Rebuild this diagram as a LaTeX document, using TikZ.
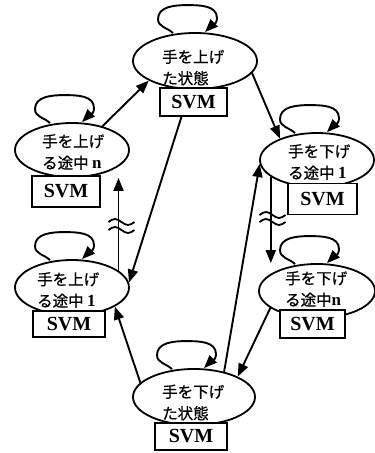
\documentclass[tikz,border=0pt]{standalone}
\usepackage{fontspec}
\setmainfont{Liberation Serif}
\newfontfamily\jp[FakeBold=0.6]{Noto Sans CJK JP}
\usetikzlibrary{shapes.geometric,arrows.meta,calc}
\tikzset{
  st/.style={ellipse, draw, line width=1.8pt, fill=white, inner sep=0pt},
  lbl/.style={anchor=west, align=left, inner sep=0pt, font=\fontsize{15.5}{21.5}\selectfont\jp},
  svmbox/.style={draw, line width=1.8pt, fill=white, inner sep=0pt, font=\fontsize{20}{21}\selectfont\bfseries},
  arr/.style={line width=1.9pt, -{Triangle[length=13pt,width=10pt]}},
  wave/.style={line width=1.8pt}
}
\newcommand{\selfloop}[1]{%
  \draw[arr] ([shift={(-22,-1)}]#1.north) to[out=135,in=-90] ([shift={(-37,13)}]#1.north)
    to[out=90,in=180] ([shift={(-8,27)}]#1.north)
    to[out=0,in=90] ([shift={(22,14)}]#1.north)
    to[out=-90,in=45] ([shift={(10,0)}]#1.north);}
\newcommand{\wavemark}[1]{%
  \draw[wave] ([shift={(-13,0)}]#1) sin ++(6.5,3) cos ++(6.5,-3) sin ++(6.5,-3) cos ++(6.5,3);}
\newcommand{\nb}[1]{{\fontsize{17}{21.5}\rmfamily\bfseries #1}}
\begin{document}
\begin{tikzpicture}[x=1pt,y=1pt]
\useasboundingbox (0,-453) rectangle (375,0);
% states
\node[st, minimum width=124pt, minimum height=56pt] (T) at (195,-61) {};
\node[st, minimum width=114pt, minimum height=54pt] (LU) at (72,-150) {};
\node[st, minimum width=114pt, minimum height=54pt] (RU) at (317,-160) {};
\node[st, minimum width=114pt, minimum height=55pt] (LL) at (72,-287.5) {};
\node[st, minimum width=116pt, minimum height=54pt] (RL) at (317,-291) {};
\node[st, minimum width=122pt, minimum height=56pt] (B) at (194,-397) {};
% labels
\node[lbl] (tT) at (162,-67.5) {手を上げ\\た状態};
\node[lbl] (tLU) at (42,-152) {手を上げ\\る途中 \nb{n}};
\node[lbl] (tRU) at (288,-162) {手を下げ\\る途中 \nb{1}};
\node[lbl] (tLL) at (37,-290) {手を上げ\\る途中 \nb{1}};
\node[lbl] (tRL) at (285,-289) {手を下げ\\る途中\nb{n}};
\node[lbl] (tB) at (162,-402.5) {手を下げ\\た状態};
% SVM boxes
\node[svmbox, minimum width=67pt, minimum height=28pt] (sT) at (193.5,-102) {SVM};
\node[svmbox, minimum width=68pt, minimum height=31pt] (sLU) at (66,-191.5) {SVM};
\node[svmbox, minimum width=69pt, minimum height=31pt] (sRU) at (322.5,-199) {SVM};
\node[svmbox, minimum width=72pt, minimum height=26pt] (sLL) at (69,-324) {SVM};
\node[svmbox, minimum width=65pt, minimum height=28pt] (sRL) at (312.5,-324) {SVM};
\node[svmbox, minimum width=72pt, minimum height=27pt] (sB) at (191,-436.5) {SVM};
% self loops
\selfloop{T}
\selfloop{LU}
\selfloop{RU}
\selfloop{LL}
\selfloop{RL}
\selfloop{B}
% transitions
\draw[arr] (LU.38) -- (T.203);
\draw[arr] (T.348) -- (RU.150);
\draw[arr] (sT.231) -- (LL.5);
\draw[arr] (LL.20) -- (LL.20 |- LU.south);
\draw[arr] (B.165) -- (LL.-24);
\draw[arr] (B.40) -- (RU.184);
\draw[arr] (RU.200) -- (RU.200 |- RL.north);
\draw[arr] (RL.200) -- (B.25);
% omission marks
\coordinate (w1) at (121.5,-222);
\coordinate (w2) at (121.5,-230);
\coordinate (w3) at (272.5,-215);
\coordinate (w4) at (272.5,-222);
\wavemark{w1}
\wavemark{w2}
\wavemark{w3}
\wavemark{w4}
\end{tikzpicture}
\end{document}
